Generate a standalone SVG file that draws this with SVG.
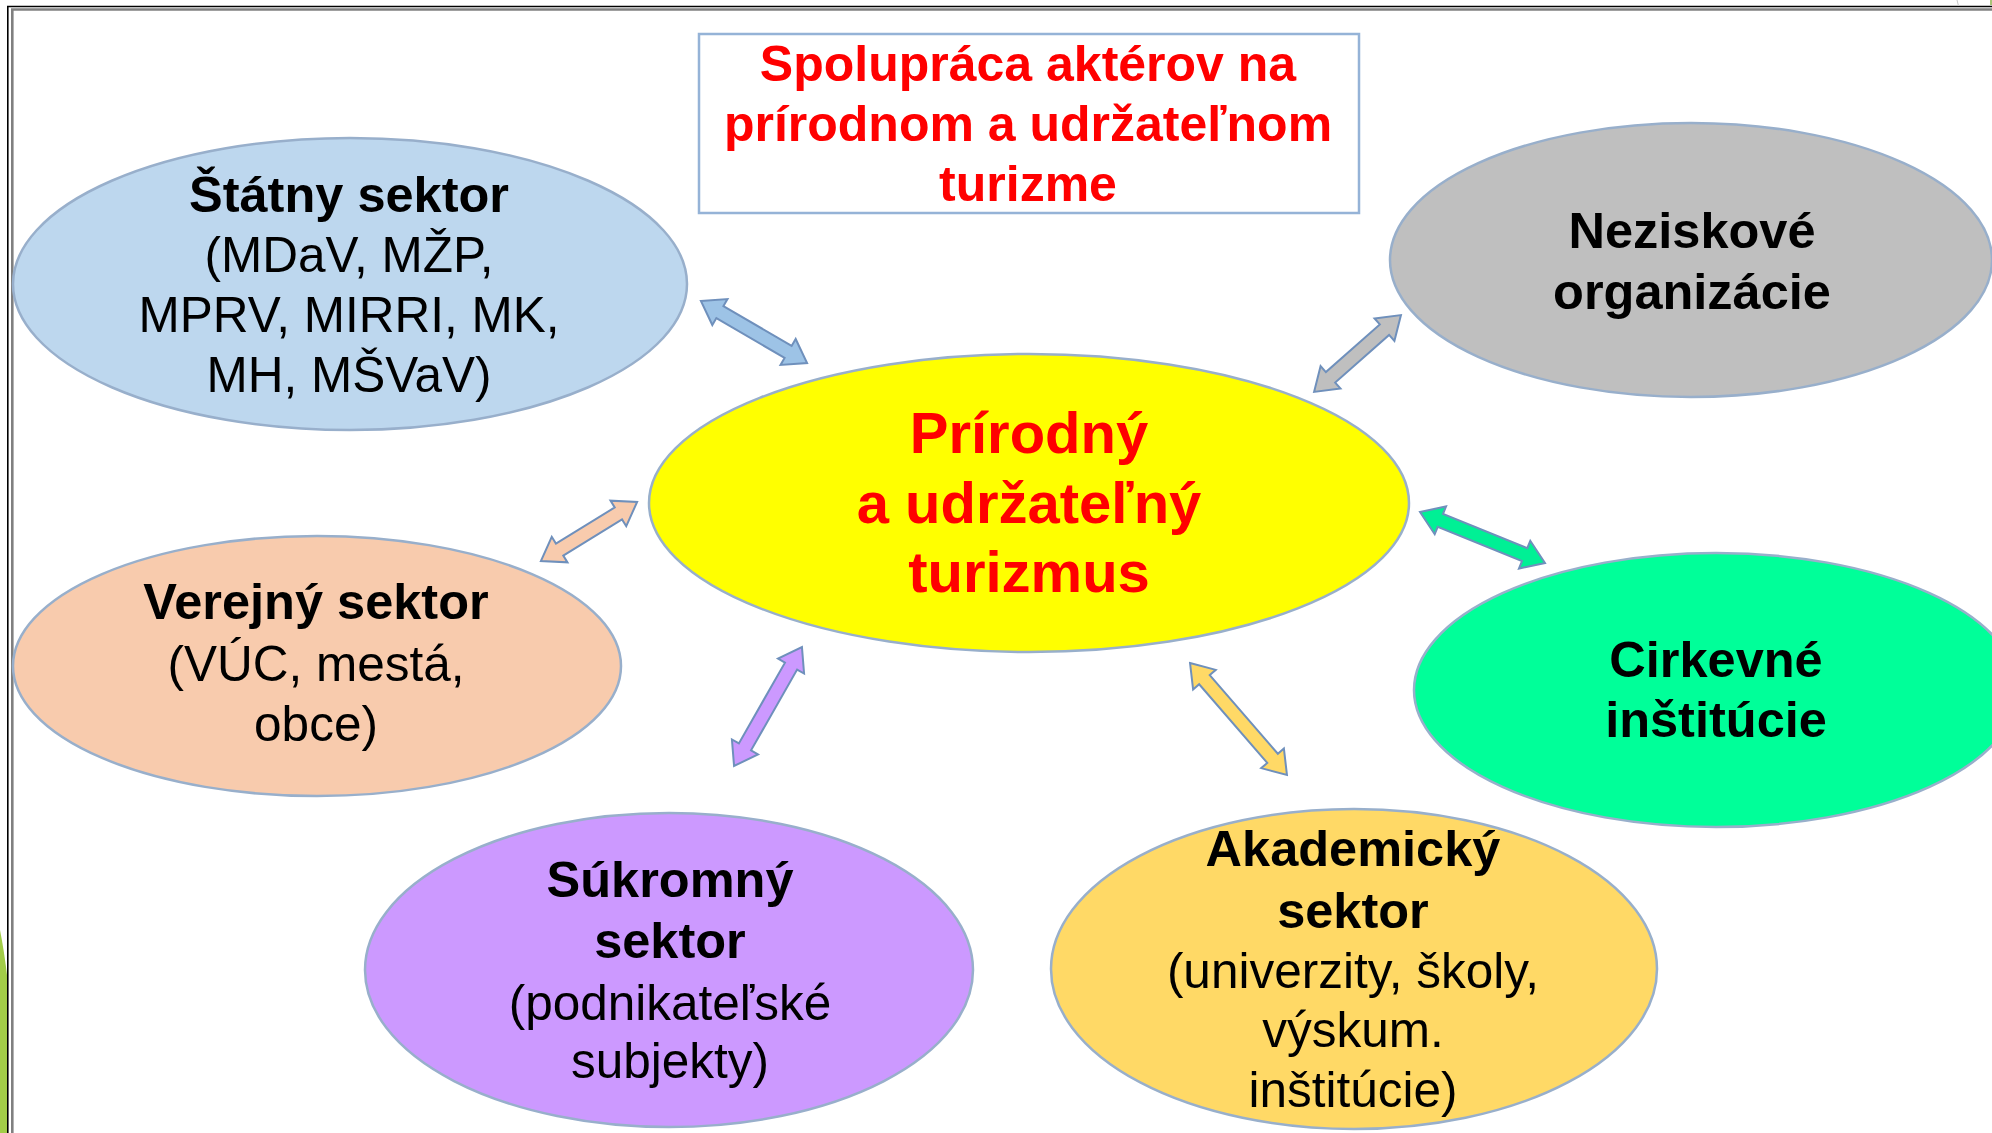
<svg xmlns="http://www.w3.org/2000/svg" width="1992" height="1133" viewBox="0 0 1992 1133">
<style>
text{font-family:"Liberation Sans",Arial,sans-serif;text-anchor:middle}
.b{font-weight:bold;font-size:50.5px;fill:#000}
.r{font-size:49.5px;fill:#000}
.red{fill:#FF0000;font-weight:bold}
.node{stroke:#98AFCB;stroke-width:2.5}
.arr{stroke:#6F90BC;stroke-width:2;stroke-linejoin:miter}
</style>
<rect width="1992" height="1133" fill="#FFFFFF"/>
<g id="frame">
<path d="M0,930 Q4,950 7,975 L7,1133 L0,1133 Z" fill="#A2CD48"/>
<line x1="7" y1="6.5" x2="1992" y2="6.5" stroke="#000" stroke-width="1.6"/>
<line x1="11" y1="9.5" x2="1992" y2="9.5" stroke="#808080" stroke-width="2.6"/>
<line x1="7.8" y1="6" x2="7.8" y2="1133" stroke="#000" stroke-width="1.6"/>
<line x1="12.3" y1="9" x2="12.3" y2="1133" stroke="#808080" stroke-width="2.6"/>
<line x1="1957" y1="0" x2="1958.5" y2="6" stroke="#C8C8C8" stroke-width="1"/>
<line x1="1991" y1="0" x2="1991" y2="5" stroke="#8DB04A" stroke-width="1.5"/>
</g>
<g id="title">
<rect x="699" y="34" width="660" height="179" fill="#FFFFFF" stroke="#95B3D7" stroke-width="2.5"/>
<text class="red" font-size="50" x="1028" y="81">Spolupráca aktérov na</text>
<text class="red" font-size="50" x="1028" y="141">prírodnom a udržateľnom</text>
<text class="red" font-size="50" x="1028" y="201">turizme</text>
</g>
<g id="connectors">
<path class="arr" fill="#9DC3E6" transform="translate(754,332) rotate(30.3)" d="M-61.5,0 L-39.5,-15 L-39.5,-7 L39.5,-7 L39.5,-15 L61.5,0 L39.5,15 L39.5,7 L-39.5,7 L-39.5,15 Z"/>
<path class="arr" fill="#BFBFBF" transform="translate(1357.5,353.5) rotate(-41.5)" d="M-58,0 L-36,-15 L-36,-7 L36,-7 L36,-15 L58,0 L36,15 L36,7 L-36,7 L-36,15 Z"/>
<path class="arr" fill="#F8CBAD" transform="translate(589,531.5) rotate(-31.6)" d="M-56.5,0 L-34.5,-15 L-34.5,-7 L34.5,-7 L34.5,-15 L56.5,0 L34.5,15 L34.5,7 L-34.5,7 L-34.5,15 Z"/>
<path class="arr" fill="#CC99FF" transform="translate(768,706.5) rotate(-60.3)" d="M-68.5,0 L-46.5,-15 L-46.5,-7 L46.5,-7 L46.5,-15 L68.5,0 L46.5,15 L46.5,7 L-46.5,7 L-46.5,15 Z"/>
<path class="arr" fill="#FFD966" transform="translate(1238.5,719) rotate(49.1)" d="M-74,0 L-52,-15 L-52,-7 L52,-7 L52,-15 L74,0 L52,15 L52,7 L-52,7 L-52,15 Z"/>
<path class="arr" fill="#00F095" transform="translate(1482.5,537.5) rotate(22.2)" d="M-67.5,0 L-45.5,-15 L-45.5,-7 L45.5,-7 L45.5,-15 L67.5,0 L45.5,15 L45.5,7 L-45.5,7 L-45.5,15 Z"/>
</g>
<g id="statny">
<ellipse class="node" cx="350" cy="284" rx="337" ry="146" fill="#BDD7EE"/>
<text class="b" x="349" y="212">Štátny sektor</text>
<text class="r" x="349" y="272">(MDaV, MŽP,</text>
<text class="r" x="349" y="332">MPRV, MIRRI, MK,</text>
<text class="r" x="349" y="392">MH, MŠVaV)</text>
</g>
<g id="neziskove">
<ellipse class="node" cx="1691" cy="260" rx="301" ry="137" fill="#BFBFBF"/>
<text class="b" x="1692" y="248">Neziskové</text>
<text class="b" x="1692" y="309">organizácie</text>
</g>
<g id="center">
<ellipse class="node" cx="1029" cy="503" rx="380" ry="149" fill="#FFFF00"/>
<text class="red" font-size="58" x="1029" y="453">Prírodný</text>
<text class="red" font-size="58" x="1029" y="523">a udržateľný</text>
<text class="red" font-size="58" x="1029" y="592">turizmus</text>
</g>
<g id="verejny">
<ellipse class="node" cx="317" cy="666" rx="304" ry="130" fill="#F8CBAD"/>
<text class="b" x="316" y="619">Verejný sektor</text>
<text class="r" x="316" y="681">(VÚC, mestá,</text>
<text class="r" x="316" y="741">obce)</text>
</g>
<g id="cirkevne">
<ellipse class="node" cx="1716" cy="690" rx="302" ry="137" fill="#00FF99"/>
<text class="b" x="1716" y="677">Cirkevné</text>
<text class="b" x="1716" y="737">inštitúcie</text>
</g>
<g id="sukromny">
<ellipse class="node" cx="669" cy="970" rx="304" ry="157" fill="#CC99FF"/>
<text class="b" x="670" y="897">Súkromný</text>
<text class="b" x="670" y="958">sektor</text>
<text class="r" x="670" y="1020">(podnikateľské</text>
<text class="r" x="670" y="1078">subjekty)</text>
</g>
<g id="akademicky">
<ellipse class="node" cx="1354" cy="969" rx="303" ry="160" fill="#FFD966"/>
<text class="b" x="1353" y="866">Akademický</text>
<text class="b" x="1353" y="928">sektor</text>
<text class="r" x="1353" y="988">(univerzity, školy,</text>
<text class="r" x="1353" y="1047">výskum.</text>
<text class="r" x="1353" y="1107">inštitúcie)</text>
</g>
</svg>
